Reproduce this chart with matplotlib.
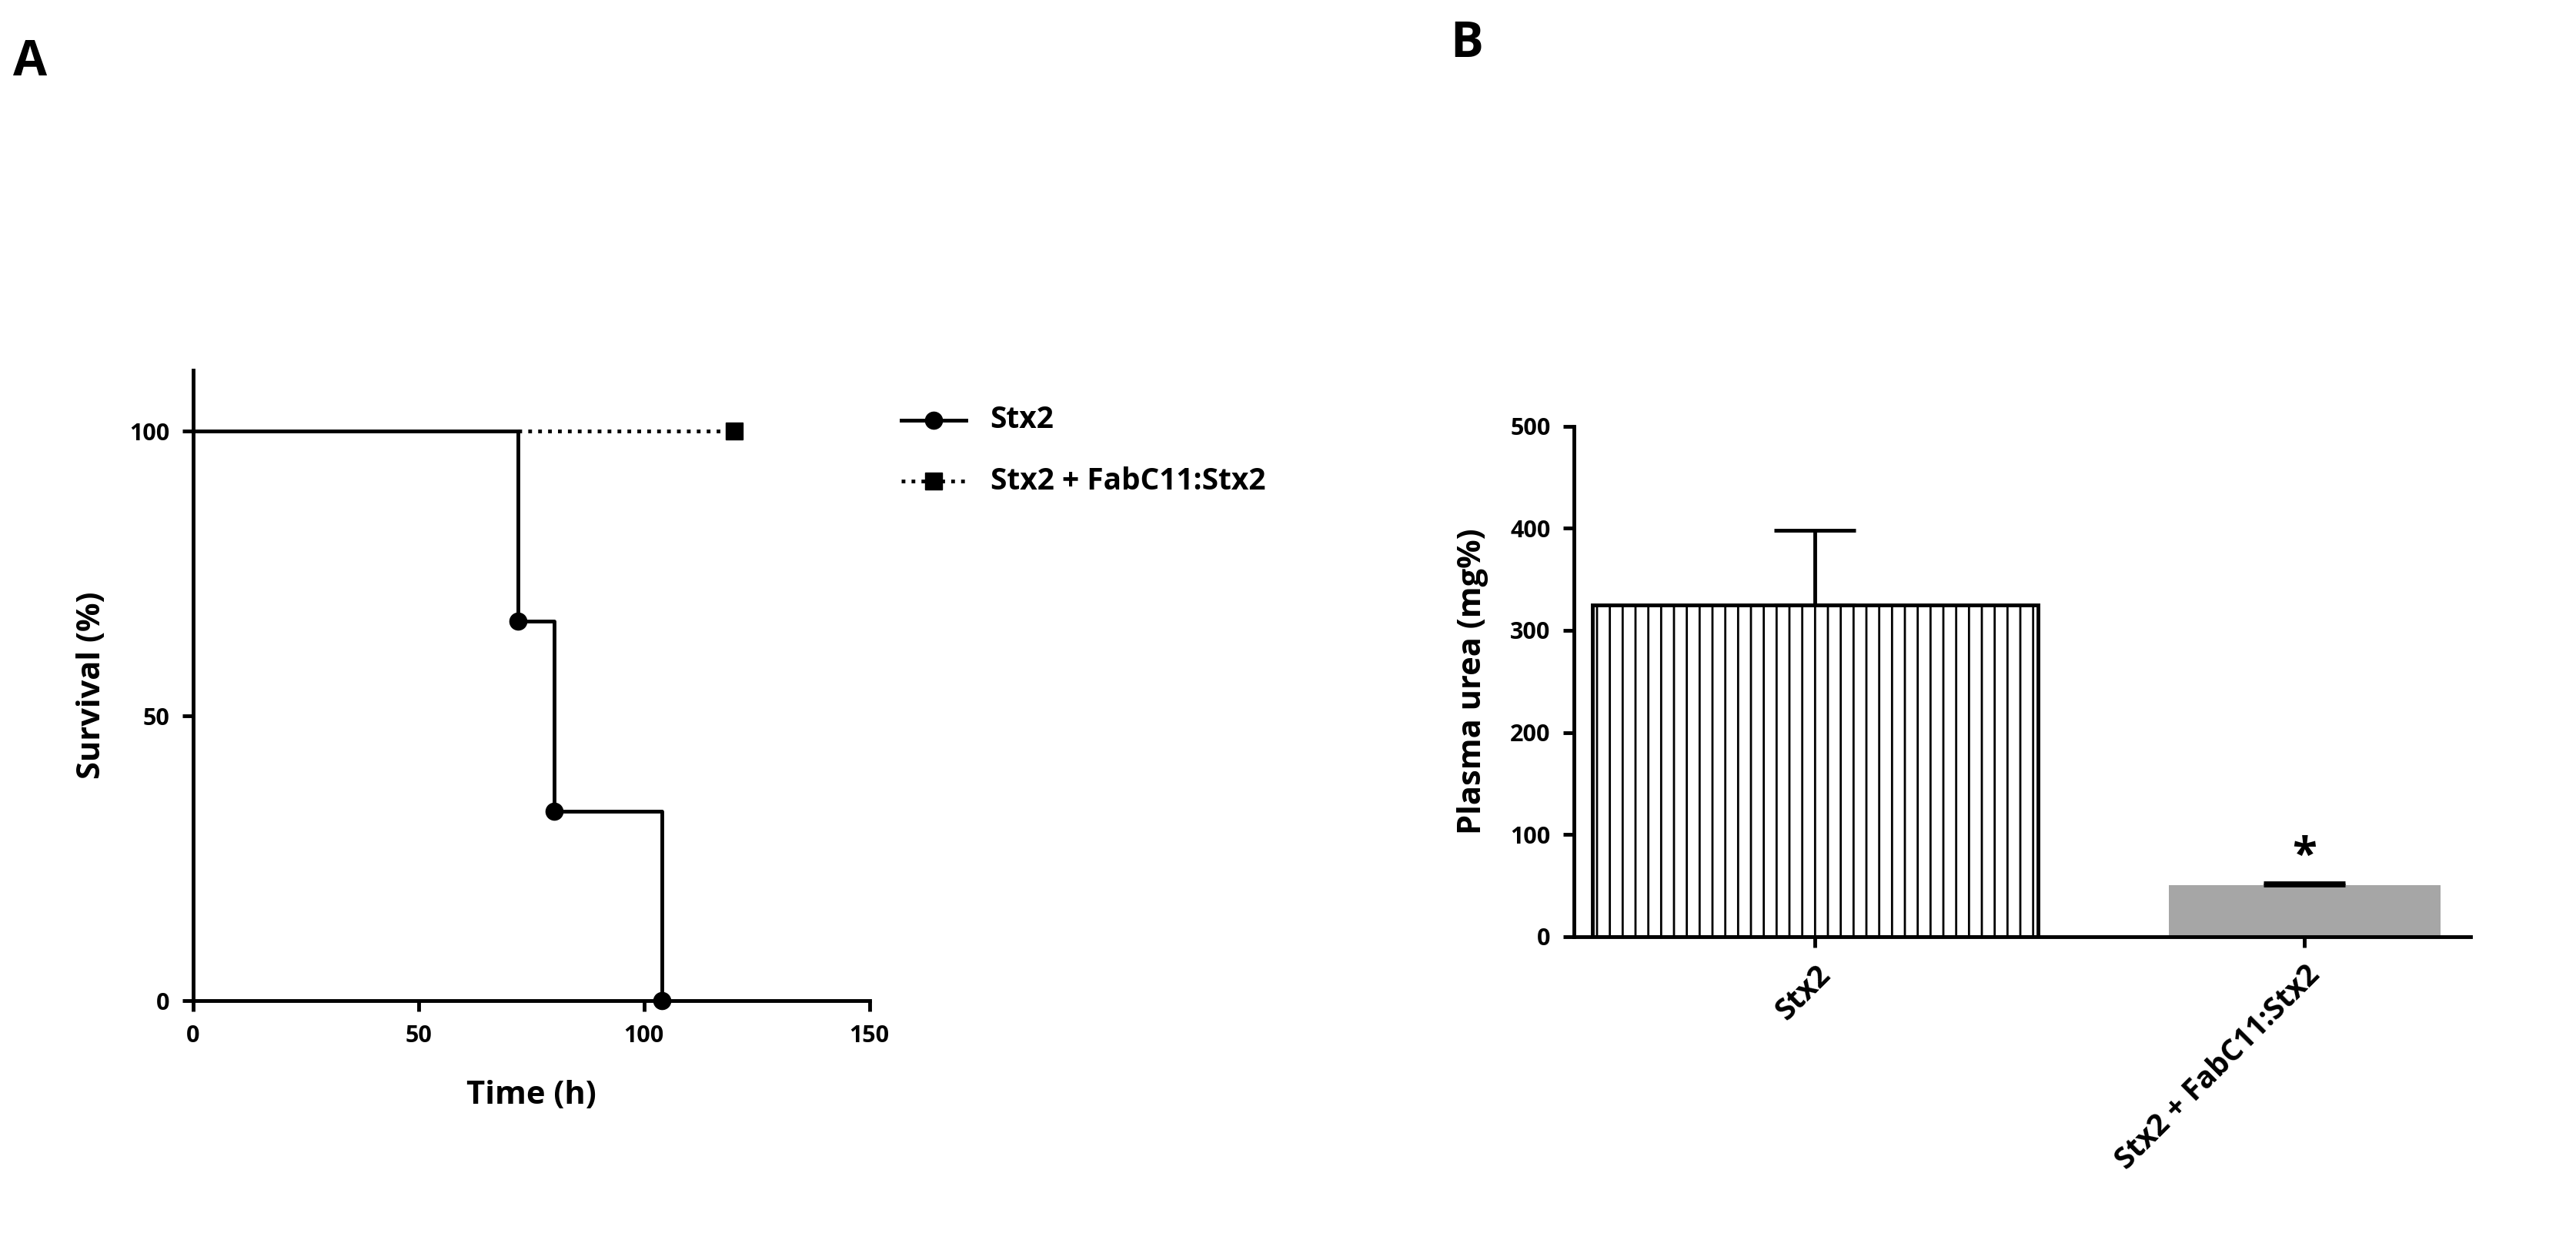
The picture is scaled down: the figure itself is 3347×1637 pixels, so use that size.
import numpy as np
import matplotlib
matplotlib.use("Agg")
import matplotlib.pyplot as plt

plt.rcParams['font.family'] = ['Open Sans', 'DejaVu Sans']
plt.rcParams['hatch.color'] = '#888888'
plt.rcParams['hatch.linewidth'] = 2.0

# Panel A: Kaplan-Meier survival
stx2_time = [0, 72, 80, 104]
stx2_surv = [100, 66.7, 33.3, 0]
stx2_events_t = [72, 80, 104]
stx2_events_s = [66.7, 33.3, 0]
fab_time = [72, 120]
fab_surv = [100, 100]

# Panel B: plasma urea
groups = ["Stx2", "Stx2 + FabC11:Stx2"]
urea_mean = [325, 50]
urea_err = [73, 3]

fig = plt.figure(figsize=(33.47, 16.37), dpi=100)

ax = fig.add_axes([0.075, 0.2056, 0.2625, 0.5007])
ax.step(stx2_time + [104], stx2_surv + [0], where="post", color="black", lw=3.5)
ax.plot(stx2_events_t, stx2_events_s, "o", color="black", ms=16, clip_on=False)
ax.plot(fab_time, fab_surv, ":", color="black", lw=3.5)
ax.plot([120], [100], "s", color="black", ms=16, clip_on=False)
ax.set_xlim(0, 150)
ax.set_ylim(0, 110.7)
ax.set_xticks([0, 50, 100, 150])
ax.set_yticks([0, 50, 100])
ax.set_xlabel("Time (h)", fontsize=30, fontweight="bold", labelpad=30)
ax.set_ylabel("Survival (%)", fontsize=30, fontweight="bold", labelpad=20)
for s in ["top", "right"]:
    ax.spines[s].set_visible(False)
for s in ["left", "bottom"]:
    ax.spines[s].set_linewidth(3.5)
ax.tick_params(width=3.5, length=10, labelsize=22, pad=12)
for t in ax.get_xticklabels() + ax.get_yticklabels():
    t.set_fontweight("bold")

# legend drawn manually in figure coords
lx0, lx1, ltx = 560 / 1600, 600 / 1600, 615 / 1600
for y, ls, mk, lab in [(261, "-", "o", "Stx2"), (299, ":", "s", "Stx2 + FabC11:Stx2")]:
    yf = 1 - y / 783
    fig.add_artist(plt.Line2D([lx0, lx1], [yf, yf], ls=ls, color="black", lw=3.5))
    fig.add_artist(plt.Line2D([(lx0 + lx1) / 2], [yf], marker=mk, color="black", ms=16))
    fig.text(ltx, yf, lab, fontsize=28, fontweight="bold", va="center")

fig.text(0.005, 0.97, "A", fontsize=46, fontweight="bold", va="top")
fig.text(0.563, 0.985, "B", fontsize=46, fontweight="bold", va="top")

# Panel B
bx = fig.add_axes([0.611, 0.2567, 0.348, 0.405])
pos = [0.269, 0.815]
widths = [0.497, 0.303]
bx.bar(pos[0], urea_mean[0], width=widths[0], color="white", edgecolor="black",
       linewidth=3.5, hatch="|", zorder=2)
bx.bar(pos[1], urea_mean[1], width=widths[1], color="#a6a6a6", edgecolor="none", zorder=2)
for p, m, e in zip(pos, urea_mean, urea_err):
    bx.errorbar([p], [m], yerr=[[0], [e]], color="black", elinewidth=3.5,
                capsize=38, capthick=3.5, zorder=3)
bx.text(pos[1], urea_mean[1] + urea_err[1] + 3, "*", fontsize=42, fontweight="bold",
        ha="center", va="bottom")
bx.set_xlim(0, 1)
bx.set_ylim(0, 500)
bx.set_yticks(np.arange(0, 501, 100))
bx.set_xticks(pos)
bx.set_xticklabels(groups, rotation=45, ha="right", rotation_mode="anchor",
                   fontsize=28, fontweight="bold")
bx.set_ylabel("Plasma urea (mg%)", fontsize=30, fontweight="bold", labelpad=20)
for s in ["top", "right"]:
    bx.spines[s].set_visible(False)
for s in ["left", "bottom"]:
    bx.spines[s].set_linewidth(3.5)
bx.tick_params(width=3.5, length=10, pad=12)
bx.tick_params(axis="y", labelsize=22)
for t in bx.get_yticklabels():
    t.set_fontweight("bold")

fig.savefig("out.png", dpi=100)
